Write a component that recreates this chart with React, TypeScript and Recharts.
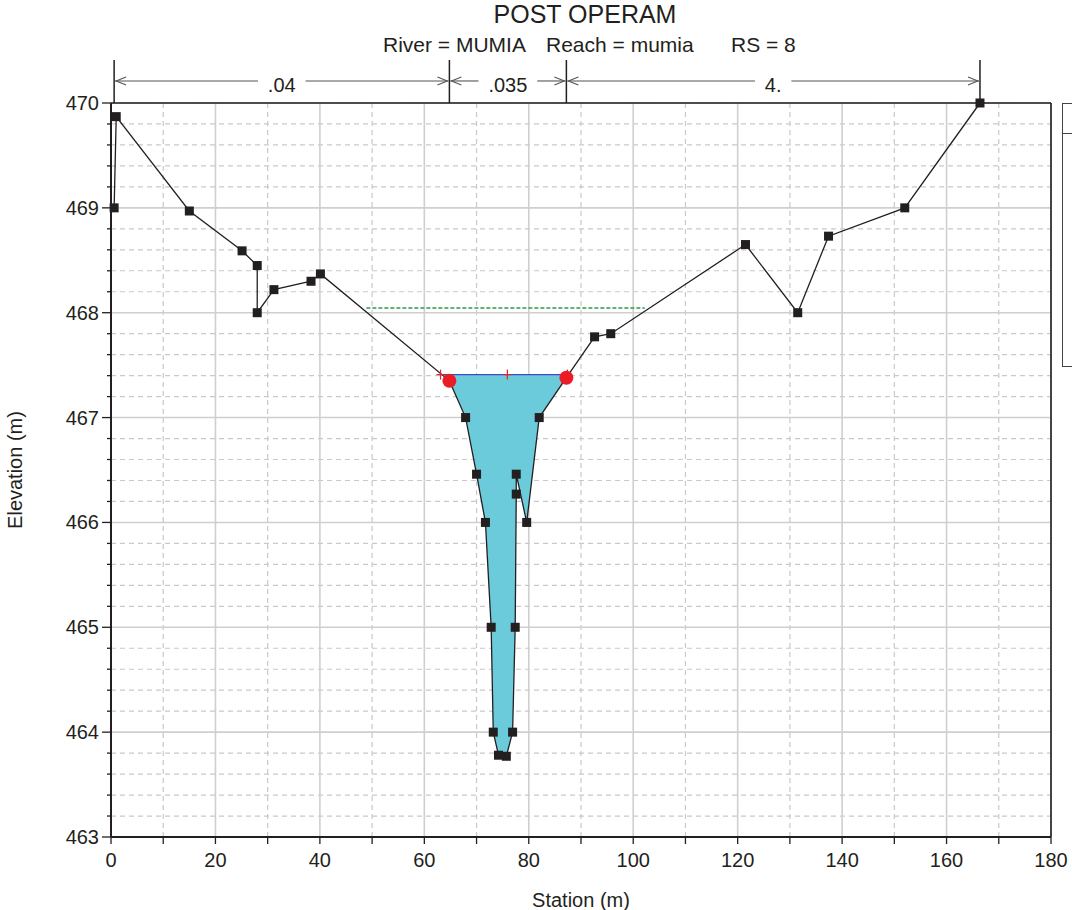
import React from 'react';
import { ComposedChart, XAxis, YAxis, CartesianGrid, Line, Area, Scatter, ReferenceLine } from 'recharts';

// Ground profile (station m, elevation m)
const groundStation = [0.6, 1.0, 15.0, 25.1, 28.0, 28.0, 31.2, 38.3, 40.1, 64.8, 67.9, 70.0, 71.7, 72.8, 73.2, 74.2, 75.7, 76.9, 77.4, 77.6, 77.6, 79.6, 82.0, 87.2, 92.6, 95.7, 121.5, 131.5, 137.4, 152.0, 166.4];
const groundElev = [469.0, 469.87, 468.97, 468.59, 468.45, 468.0, 468.22, 468.3, 468.37, 467.35, 467.0, 466.46, 466.0, 465.0, 464.0, 463.78, 463.77, 464.0, 465.0, 466.27, 466.46, 466.0, 467.0, 467.38, 467.77, 467.8, 468.65, 468.0, 468.73, 469.0, 470.0];

// Water surface
const wsElev = 467.41;
const wsStations = [63.1, 75.9, 87.4];

// Bank stations
const bankStations = [64.8, 87.2];
const bankElev = [467.35, 467.38];

// Green dashed level
const greenStations = [48.9, 102.2];
const greenElev = 468.045;

// Manning n breaks
const nBreaks = [0.6, 64.8, 87.2, 166.4];
const nLabels = ['.04', '.035', '4.'];
const nLineElev = 470.21;
const nTopElev = 470.41;

// Axes
const xTicks = [0, 10, 20, 30, 40, 50, 60, 70, 80, 90, 100, 110, 120, 130, 140, 150, 160, 170, 180];
const yMajorTicks = [463, 464, 465, 466, 467, 468, 469, 470];
const xGridMajor = [20, 40, 60, 80, 100, 120, 140, 160];
const xGridMinor = [10, 30, 50, 70, 90, 110, 130, 150, 170];
const yMinorSteps = [0.2, 0.4, 0.6, 0.8];

const yAllTicks: number[] = [];
yMajorTicks.forEach((t, i) => {
  yAllTicks.push(t);
  if (i < yMajorTicks.length - 1) yMinorSteps.forEach((s) => yAllTicks.push(Math.round((t + s) * 100) / 100));
});
const yGridMinor = yAllTicks.filter((v) => !Number.isInteger(v));
const yGridMajor = yMajorTicks.slice(1, -1);

const groundData = groundStation.map((x, i) => ({ x, y: groundElev[i] }));
const waterData = [
  { x: wsStations[0], w: [wsElev, wsElev] },
  ...groundStation
    .map((x, i) => ({ x, w: [groundElev[i], wsElev] }))
    .filter((d) => d.x > wsStations[0] && d.x < wsStations[wsStations.length - 1]),
  { x: wsStations[wsStations.length - 1], w: [wsElev, wsElev] },
];
const wsData = wsStations.map((x) => ({ x, y: wsElev }));
const bankData = bankStations.map((x, i) => ({ x, y: bankElev[i] }));
const greenData = greenStations.map((x) => ({ x, y: greenElev }));

const FONT = 'Liberation Sans, Arial, Helvetica, sans-serif';
const INK = '#231f20';

const YTick = (props: any) => {
  const { x, y, payload } = props;
  const v = payload.value;
  const major = Math.abs(v - Math.round(v)) < 1e-6;
  return (
    <g>
      <line x1={x - (major ? 9 : 4)} x2={x} y1={y} y2={y} stroke={INK} strokeWidth={1.3} />
      {major && (
        <text x={x - 12} y={y + 7} textAnchor="end" fontSize={20} fontFamily={FONT} fill={INK}>
          {Math.round(v)}
        </text>
      )}
    </g>
  );
};

const XTick = (props: any) => {
  const { x, y, payload } = props;
  const v = payload.value;
  return (
    <g>
      <line x1={x} x2={x} y1={y} y2={y + 7} stroke={INK} strokeWidth={1.3} />
      {v % 20 === 0 && (
        <text x={x} y={y + 30} textAnchor="middle" fontSize={20} fontFamily={FONT} fill={INK}>
          {v}
        </text>
      )}
    </g>
  );
};

const SquareDot = (props: any) => {
  const { cx, cy, index } = props;
  if (cx == null || cy == null) return <g key={index} />;
  return <rect key={index} x={cx - 4.5} y={cy - 4.5} width={9} height={9} fill={INK} />;
};

const PlusDot = (props: any) => {
  const { cx, cy, index } = props;
  if (cx == null || cy == null) return <g key={index} />;
  return (
    <g key={index}>
      <line x1={cx - 4} x2={cx + 4} y1={cy} y2={cy} stroke="#e8202a" strokeWidth={1.2} />
      <line x1={cx} x2={cx} y1={cy - 5} y2={cy + 5} stroke="#e8202a" strokeWidth={1.2} />
    </g>
  );
};

const makeArrow = (label: string) => (p: any) => {
  const { x1, x2, y1 } = p;
  const y = y1;
  const mid = (x1 + x2) / 2;
  const half = label.length * 5.6 + 7;
  const stroke = '#555';
  return (
    <g>
      <line x1={x1 + 1} x2={mid - half} y1={y} y2={y} stroke={stroke} strokeWidth={1.1} />
      <line x1={mid + half} x2={x2 - 1} y1={y} y2={y} stroke={stroke} strokeWidth={1.1} />
      <polyline points={`${x1 + 12},${y - 4} ${x1 + 2},${y} ${x1 + 12},${y + 4}`} fill="none" stroke={stroke} strokeWidth={1.1} />
      <polyline points={`${x2 - 12},${y - 4} ${x2 - 2},${y} ${x2 - 12},${y + 4}`} fill="none" stroke={stroke} strokeWidth={1.1} />
      <text x={mid} y={y + 11} textAnchor="middle" fontSize={20} fontFamily={FONT} fill={INK}>
        {label}
      </text>
    </g>
  );
};

export default function App() {
  return (
    <div style={{ position: 'absolute', left: 0, top: 0, width: 1072, height: 910, overflow: 'hidden', background: '#fff' }}>
      <svg width={1072} height={70} style={{ position: 'absolute', left: 0, top: 0 }}>
        <text x={585} y={23} textAnchor="middle" fontSize={25} fontFamily={FONT} fill={INK}>
          POST OPERAM
        </text>
        <text x={383} y={52} fontSize={21} fontFamily={FONT} fill={INK}>River = MUMIA</text>
        <text x={546} y={52} fontSize={21} fontFamily={FONT} fill={INK}>Reach = mumia</text>
        <text x={731} y={52} fontSize={21} fontFamily={FONT} fill={INK}>RS = 8</text>
      </svg>
      <div style={{ position: 'absolute', left: 0, top: 0 }}>
        <ComposedChart width={1072} height={910} data={groundData} margin={{ top: 103, right: 21, bottom: 0, left: 0 }}>
          <XAxis xAxisId="gmin" type="number" dataKey="x" domain={[0, 180]} ticks={xGridMinor} interval={0} hide />
          <XAxis xAxisId="gmaj" type="number" dataKey="x" domain={[0, 180]} ticks={xGridMajor} interval={0} hide />
          <YAxis yAxisId="gmin" type="number" dataKey="y" domain={[463, 470]} ticks={yGridMinor} interval={0} hide />
          <YAxis yAxisId="gmaj" type="number" dataKey="y" domain={[463, 470]} ticks={yGridMajor} interval={0} hide />
          <CartesianGrid xAxisId="gmin" yAxisId="gmin" stroke="#c9c9c9" strokeDasharray="5 4" strokeWidth={1.2} />
          <CartesianGrid xAxisId="gmaj" yAxisId="gmaj" stroke="#cfcfcf" strokeWidth={1.6} />
          <XAxis
            type="number"
            dataKey="x"
            domain={[0, 180]}
            ticks={xTicks}
            interval={0}
            height={73}
            tickSize={0}
            tickMargin={0}
            tickLine={false}
            tick={<XTick />}
            axisLine={{ stroke: INK, strokeWidth: 2 }}
            label={{
              content: (p: any) => {
                const vb = p.viewBox || {};
                return (
                  <text x={(vb.x ?? 111) + (vb.width ?? 940) / 2} y={907} textAnchor="middle" fontSize={20} fontFamily={FONT} fill={INK}>
                    Station (m)
                  </text>
                );
              },
            }}
          />
          <YAxis
            type="number"
            dataKey="y"
            domain={[463, 470]}
            ticks={yAllTicks}
            interval={0}
            width={111}
            tickSize={0}
            tickMargin={0}
            tickLine={false}
            tick={<YTick />}
            axisLine={{ stroke: INK, strokeWidth: 2 }}
            label={{
              content: (p: any) => {
                const vb = p.viewBox || {};
                const cy = (vb.y ?? 103) + (vb.height ?? 734) / 2;
                return (
                  <text x={22} y={cy} transform={`rotate(-90 22 ${cy})`} textAnchor="middle" fontSize={20} fontFamily={FONT} fill={INK}>
                    Elevation (m)
                  </text>
                );
              },
            }}
          />
          <Area data={waterData} dataKey="w" type="linear" stroke="none" fill="#6ccbdb" fillOpacity={1} isAnimationActive={false} />
          <Line data={greenData} dataKey="y" type="linear" stroke="#2e9a4a" strokeWidth={1.3} strokeDasharray="4 2" dot={false} isAnimationActive={false} />
          <Line data={groundData} dataKey="y" type="linear" stroke={INK} strokeWidth={1.3} dot={<SquareDot />} activeDot={false} isAnimationActive={false} />
          <Line data={wsData} dataKey="y" type="linear" stroke="#4048c8" strokeWidth={1.1} dot={<PlusDot />} activeDot={false} isAnimationActive={false} />
          <Scatter
            data={bankData}
            dataKey="y"
            fill="#e8202a"
            isAnimationActive={false}
            shape={(p: any) => <circle cx={p.cx} cy={p.cy} r={7} fill="#ec1c24" />}
          />
          <ReferenceLine y={470} stroke={INK} strokeWidth={1.6} ifOverflow="visible" />
          <ReferenceLine x={180} stroke={INK} strokeWidth={1.6} ifOverflow="visible" />
          {nBreaks.map((b) => (
            <ReferenceLine
              key={`nb${b}`}
              segment={[{ x: b, y: 470 }, { x: b, y: nTopElev }]}
              stroke={INK}
              strokeWidth={1.5}
              ifOverflow="visible"
            />
          ))}
          {nLabels.map((lab, i) => (
            <ReferenceLine
              key={`na${i}`}
              segment={[{ x: nBreaks[i], y: nLineElev }, { x: nBreaks[i + 1], y: nLineElev }]}
              ifOverflow="visible"
              shape={makeArrow(lab)}
            />
          ))}
        </ComposedChart>
      </div>
      <div style={{ position: 'absolute', left: 1062, top: 103, width: 30, height: 264, border: '1.5px solid #444', boxSizing: 'border-box' }}>
        <div style={{ position: 'absolute', left: 0, right: 0, top: 29, borderTop: '1.5px solid #444' }} />
      </div>
    </div>
  );
}
